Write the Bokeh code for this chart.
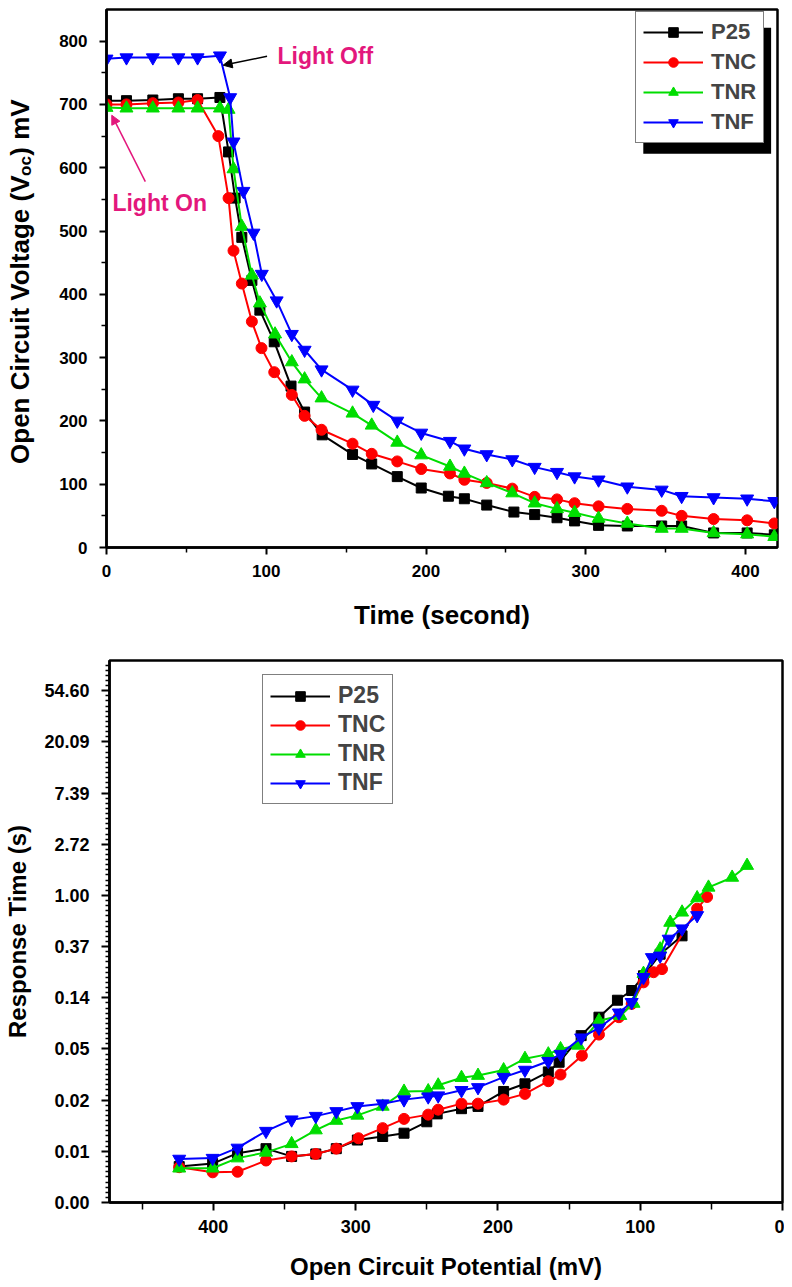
import numpy as np
from bokeh.plotting import figure
from bokeh.models import (Range1d, FixedTicker, PrintfTickFormatter, Legend, LegendItem,
                          Label, Arrow, NormalHead, BoxAnnotation)
from bokeh.core.properties import value
from bokeh.layouts import column, row
from bokeh.embed import file_html
from bokeh.resources import INLINE

FONT = "Liberation Sans"
MAGENTA = "#E3177C"

# ---------------- top panel data: Voc decay ----------------
series_names = ["P25", "TNC", "TNR", "TNF"]
colors = ["#000000", "#FF0000", "#00DD00", "#0000FF"]
markers = ["square", "circle", "triangle", "inverted_triangle"]
marker_sizes = [10, 11, 13, 13]

t_p25 = [0, 12.5, 29, 45, 57, 71, 76.4, 80.5, 84.7, 91, 96, 105, 115.5, 124, 135, 154, 166, 182,
         197, 214, 224, 238, 255, 268, 282, 293, 308, 326, 347.5, 360, 380, 401, 418]
v_p25 = [706, 706, 707, 709, 709, 711, 625, 552, 490, 422, 375, 325, 255, 214, 178, 147, 132, 112,
         94, 81, 77, 67, 56, 52, 47, 42, 35, 34, 34, 34, 23, 23, 20]

t_tnc = [0, 12.5, 29, 45, 57, 70, 76.4, 79.5, 84.7, 91, 97, 105, 116, 124, 134.6, 154, 166, 182,
         197, 215, 224, 238, 254, 268, 282, 293, 308, 326, 347.5, 360, 380, 401, 418]
v_tnc = [700, 700, 702, 703, 707, 650, 552, 469, 417, 357, 315, 277, 241, 208, 186, 164, 148, 136,
         124, 117, 107, 102, 93, 80, 76, 70, 65, 61, 58, 50, 45, 43, 38]

t_tnr = [0, 12.5, 29, 45, 57, 71, 76.4, 79.5, 84.7, 91, 96, 105.5, 116, 124, 134.6, 154, 166, 182,
         197, 215, 224, 238, 254, 268, 282, 293, 308, 326, 347.5, 360, 380, 401, 418]
v_tnr = [695, 694, 694, 694, 694, 694, 692, 598, 507, 430, 386, 337, 293, 266, 236, 212, 193, 166,
         146, 128, 117, 102, 86, 70, 61, 55, 46, 38, 30, 30, 23, 21, 17]

t_tnf = [0, 12.5, 29, 45, 57, 71, 77.4, 79.5, 85.7, 92, 97.2, 106.5, 116, 124, 134.6, 154, 167, 182,
         197, 215, 224, 238, 254, 268, 282, 293, 308, 326, 347.5, 360, 380, 401, 418]
v_tnf = [772, 774, 774, 774, 774, 777, 711, 641, 563, 497, 432, 390, 337, 312, 281, 249, 225, 200,
         181, 168, 156, 147, 139, 127, 119, 112, 107, 96, 91, 81, 79, 77, 73]

top_x_ticks = [0, 100, 200, 300, 400]
top_x_minor = [50, 150, 250, 350]
top_y_ticks = [0, 100, 200, 300, 400, 500, 600, 700, 800]
top_y_minor = [50, 150, 250, 350, 450, 550, 650, 750]

# ---------------- bottom panel data: response time ----------------
ocp_p25 = [424, 400.5, 383, 363, 345, 328, 313.6, 298.8, 281, 266, 250, 242.7, 225.6, 214, 196, 181,
           164.6, 157, 141.5, 129, 116, 106, 97.7, 86, 70.6]
rt_p25 = [0.0050, 0.0053, 0.0065, 0.0071, 0.0061, 0.0064, 0.0071, 0.0084, 0.0090, 0.0096, 0.0120,
          0.0140, 0.0155, 0.0162, 0.0217, 0.0252, 0.0318, 0.0384, 0.0646, 0.0926, 0.129, 0.156,
          0.208, 0.317, 0.454]

ocp_tnc = [424, 400.5, 383, 363, 345, 328, 313.6, 298, 281, 266, 249, 242, 225.6, 214, 196, 181,
           164.6, 156, 141, 129, 115, 106, 97.7, 90.6, 84.7, 60, 53]
rt_tnc = [0.00494, 0.00447, 0.00452, 0.00563, 0.0061, 0.0064, 0.0071, 0.0087, 0.0106, 0.0127,
          0.0138, 0.0152, 0.0171, 0.0171, 0.0185, 0.0207, 0.0265, 0.0302, 0.0437, 0.0659, 0.0926,
          0.120, 0.183, 0.223, 0.237, 0.771, 0.970]

ocp_tnr = [424, 400.5, 383, 363, 345, 328, 313.6, 298.8, 281, 266, 249, 242, 225.6, 214, 196, 181,
           164.6, 156, 143.6, 129, 114, 104.7, 97.7, 86, 78.9, 70.6, 60, 52, 35.4, 24.9]
rt_tnr = [0.00484, 0.00484, 0.0059, 0.0066, 0.0078, 0.0102, 0.0123, 0.0136, 0.0162, 0.0217, 0.0219,
          0.0245, 0.0284, 0.0296, 0.0330, 0.0412, 0.0450, 0.0498, 0.0534, 0.0863, 0.0954, 0.121,
          0.217, 0.350, 0.589, 0.719, 0.951, 1.17, 1.42, 1.79]

ocp_tnf = [424, 400.5, 383, 363, 345, 328, 313.6, 298.8, 281, 266, 249, 242, 225.6, 214, 196, 181,
           164.6, 156, 141.5, 129, 115, 106, 97.7, 91.8, 86, 80, 70.6, 60]
rt_tnf = [0.0058, 0.0059, 0.0072, 0.0100, 0.0125, 0.0134, 0.0147, 0.0162, 0.0171, 0.0185, 0.0196,
          0.0200, 0.0222, 0.0235, 0.0287, 0.0330, 0.0392, 0.0450, 0.0620, 0.0750, 0.101, 0.124,
          0.202, 0.298, 0.307, 0.427, 0.522, 0.677]

bot_x_ticks = [0, 100, 200, 300, 400]
bot_x_minor = [50, 150, 250, 350, 450]
ln_exponents = list(range(-6, 5))  # ticks at e^-6 ... e^4

# y-axis title pieces of the top panel (with subscript)
ytitle_main = "Open Circuit Voltage (V"
ytitle_sub = "oc"
ytitle_end = ") mV"


def style_axis(ax, size, tick_out, minor_out):
    ax.axis_line_width = 2.5
    ax.axis_line_color = "black"
    ax.major_tick_line_width = 2
    ax.minor_tick_line_width = 1.5
    ax.major_tick_out = tick_out
    ax.major_tick_in = 0
    ax.minor_tick_out = minor_out
    ax.minor_tick_in = 0
    ax.major_label_text_font = FONT
    ax.major_label_text_font_style = "bold"
    ax.major_label_text_font_size = size
    ax.major_label_text_color = "black"
    ax.axis_label_text_font = FONT
    ax.axis_label_text_font_style = "bold"
    ax.axis_label_text_color = "black"


TOP_H, TOP_BT, TOP_BB = 632, 9, 82

# ================= y-title strip for the top figure =================
tfig = figure(width=38, height=TOP_H, x_range=Range1d(0, 1), y_range=Range1d(0, 850),
              output_backend="svg", toolbar_location=None,
              min_border_left=0, min_border_right=0, min_border_top=TOP_BT,
              min_border_bottom=TOP_BB)
tfig.axis.visible = False
tfig.grid.visible = False
tfig.outline_line_color = None
common = dict(angle=np.pi / 2, text_font=value(FONT), text_font_style="bold",
              text_align="left", text_baseline="middle", text_color="black")
tfig.text(x=[0.52], y=[132], text=[ytitle_main], text_font_size="26px", **common)
tfig.text(x=[0.52], y=[587], text=[ytitle_sub], text_font_size="17px", x_offset=5, **common)
tfig.text(x=[0.52], y=[619], text=[ytitle_end], text_font_size="26px", **common)

# ================= TOP FIGURE =================
p1 = figure(width=746, height=TOP_H, x_range=Range1d(0, 420), y_range=Range1d(0, 850),
            output_backend="svg", toolbar_location=None,
            min_border_left=68, min_border_right=7, min_border_top=TOP_BT,
            min_border_bottom=TOP_BB)
p1.grid.visible = False
p1.outline_line_color = "black"
p1.outline_line_width = 2.5

xs_top = [t_p25, t_tnc, t_tnr, t_tnf]
ys_top = [v_p25, v_tnc, v_tnr, v_tnf]
items1 = []
for name, c, m, ms, xx, yy in zip(series_names, colors, markers, marker_sizes, xs_top, ys_top):
    lr = p1.line(xx, yy, line_color=c, line_width=2)
    sr = p1.scatter(xx, yy, marker=m, size=ms, fill_color=c, line_color=c)
    items1.append(LegendItem(label=name, renderers=[lr, sr]))

p1.xaxis.ticker = FixedTicker(ticks=top_x_ticks, minor_ticks=top_x_minor)
p1.yaxis.ticker = FixedTicker(ticks=top_y_ticks, minor_ticks=top_y_minor)
style_axis(p1.xaxis[0], "17px", 7, 5)
style_axis(p1.yaxis[0], "17px", 7, 5)
p1.xaxis.major_label_standoff = 10
p1.yaxis.major_label_standoff = 12
p1.xaxis.axis_label = "Time (second)"
p1.xaxis.axis_label_text_font_size = "26px"
p1.xaxis.axis_label_standoff = 20

# annotations
p1.add_layout(Label(x=107, y=776, text="Light Off", text_font=FONT, text_font_style="bold",
                    text_font_size="23px", text_color=MAGENTA, text_baseline="middle"))
p1.add_layout(Arrow(end=NormalHead(size=9, fill_color="black", line_color="black"),
                    x_start=100.5, y_start=776, x_end=73, y_end=762,
                    line_color="black", line_width=1.5))
p1.add_layout(Label(x=3.7, y=544, text="Light On", text_font=FONT, text_font_style="bold",
                    text_font_size="23px", text_color=MAGENTA, text_baseline="middle"))
p1.add_layout(Arrow(end=NormalHead(size=9, fill_color=MAGENTA, line_color=MAGENTA),
                    x_start=24.3, y_start=578, x_end=3.3, y_end=683,
                    line_color=MAGENTA, line_width=1.5))

# legend shadow + legend
p1.add_layout(BoxAnnotation(left=336, right=416, top=821, bottom=622, fill_color="black",
                            fill_alpha=1.0, line_color=None))
leg1 = Legend(items=items1, location=(529, 404), label_text_font=FONT,
              label_text_font_style="bold", label_text_font_size="22px",
              glyph_width=60, glyph_height=24, label_height=24, label_standoff=8,
              spacing=4, padding=7, margin=0, border_line_color="black",
              border_line_width=1.5, background_fill_alpha=1.0)
p1.add_layout(leg1, "center")

# ================= BOTTOM FIGURE =================
p2 = figure(width=784, height=653, x_range=Range1d(473, 0),
            y_range=Range1d(np.exp(-6), np.exp(4.59)), y_axis_type="log",
            output_backend="svg", toolbar_location=None,
            min_border_left=109, min_border_right=2, min_border_top=28, min_border_bottom=83)
p2.grid.visible = False
p2.outline_line_color = "black"
p2.outline_line_width = 2.5

xs_bot = [ocp_p25, ocp_tnc, ocp_tnr, ocp_tnf]
ys_bot = [rt_p25, rt_tnc, rt_tnr, rt_tnf]
items2 = []
for name, c, m, ms, xx, yy in zip(series_names, colors, markers, marker_sizes, xs_bot, ys_bot):
    lr = p2.line(xx, yy, line_color=c, line_width=2)
    sr = p2.scatter(xx, yy, marker=m, size=ms, fill_color=c, line_color=c)
    items2.append(LegendItem(label=name, renderers=[lr, sr]))

major_y = [float(np.exp(k)) for k in ln_exponents]
minor_y = [float(np.exp(k + i / 10)) for k in ln_exponents for i in range(1, 10)
           if k + i / 10 < 4.6]
p2.yaxis.ticker = FixedTicker(ticks=major_y, minor_ticks=minor_y)
p2.yaxis.formatter = PrintfTickFormatter(format="%.2f")
p2.xaxis.ticker = FixedTicker(ticks=bot_x_ticks, minor_ticks=bot_x_minor)
style_axis(p2.xaxis[0], "18px", 8, 7)
style_axis(p2.yaxis[0], "18px", 8, 4)
p2.xaxis.major_label_standoff = 9
p2.yaxis.major_label_standoff = 12
p2.xaxis.axis_label = "Open Circuit Potential (mV)"
p2.xaxis.axis_label_text_font_size = "24px"
p2.xaxis.axis_label_standoff = 17
p2.yaxis.axis_label = "Response Time (s)"
p2.yaxis.axis_label_text_font_size = "24px"
p2.yaxis.axis_label_standoff = 10

leg2 = Legend(items=items2, location=(153, 398), label_text_font=FONT,
              label_text_font_style="bold", label_text_font_size="23px",
              glyph_width=60, glyph_height=24, label_height=24, label_standoff=8,
              spacing=2, padding=7, margin=0, border_line_color="black",
              border_line_width=1.5, background_fill_alpha=1.0)
p2.add_layout(leg2, "center")

layout = column(row(tfig, p1), p2)
open("out.html", "w").write(file_html(layout, INLINE))
